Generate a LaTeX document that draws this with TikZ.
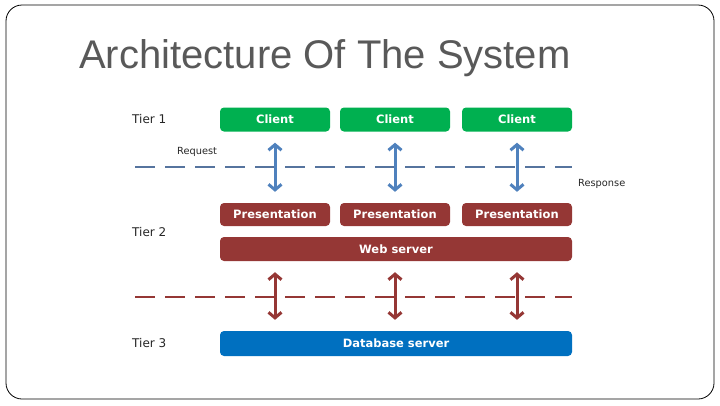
\documentclass[tikz,border=0pt]{standalone}
\usepackage{fontspec}
\setmainfont{Liberation Sans}
\newfontfamily\boxfont{DejaVu Sans}
\usetikzlibrary{arrows.meta}
\tikzset{
  tierbox/.style = {rounded corners = 4pt, minimum height = 24pt, inner sep = 0pt,
    text = white, font = \boxfont\bfseries\fontsize{11.5}{13}\selectfont},
  tierlabel/.style = {anchor = west, inner sep = 0pt, text = black!85,
    font = \boxfont\fontsize{12}{14}\selectfont},
  smalllabel/.style = {anchor = west, inner sep = 0pt, text = black!85,
    font = \boxfont\fontsize{9.8}{11}\selectfont},
  flow/.style = {line width = 3pt, {Straight Barb[length=5.5pt,width=13pt]}-{Straight Barb[length=5.5pt,width=13pt]},
    shorten < = 11pt, shorten > = 11pt},
  divider/.style = {line width = 1.8pt, dash pattern = on 20pt off 10pt}
}
\begin{document}
\begin{tikzpicture}[x = 1pt, y = -1pt]
\definecolor{titlegrey}{HTML}{595959}
\definecolor{clientgreen}{HTML}{00B050}
\definecolor{serverred}{HTML}{953735}
\definecolor{dbblue}{HTML}{0070C0}
\definecolor{flowblue}{HTML}{4F81BD}
\definecolor{lineblue}{HTML}{56749E}
\useasboundingbox (0, 0) rectangle (720, 405);
\draw[line width = 0.8pt, rounded corners = 16pt] (6, 5) rectangle (714, 399);
% title
\node[anchor = base west, inner sep = 0pt, text = titlegrey, font = \fontsize{40}{44}\selectfont] (title) at (79, 68) {Architecture Of The System};
% tier 1
\node[tierlabel] (tier1) at (132, 119) {Tier 1};
\node[tierbox, fill = clientgreen, minimum width = 110pt] (c1) at (275, 119.5) {Client};
\node[tierbox, fill = clientgreen, minimum width = 110pt] (c2) at (395, 119.5) {Client};
\node[tierbox, fill = clientgreen, minimum width = 110pt] (c3) at (517, 119.5) {Client};
% tier 2
\node[tierlabel] (tier2) at (132, 232) {Tier 2};
\node[tierbox, fill = serverred, minimum width = 110pt, minimum height = 23pt] (p1) at (275, 214.5) {Presentation};
\node[tierbox, fill = serverred, minimum width = 110pt, minimum height = 23pt] (p2) at (395, 214.5) {Presentation};
\node[tierbox, fill = serverred, minimum width = 110pt, minimum height = 23pt] (p3) at (517, 214.5) {Presentation};
\node[tierbox, fill = serverred, minimum width = 352pt] (ws) at (396, 249) {Web server};
% tier 3
\node[tierlabel] (tier3) at (132, 343) {Tier 3};
\node[tierbox, fill = dbblue, minimum width = 352pt, minimum height = 25pt] (db) at (396, 343.5) {Database server};
% dividers
\coordinate (req left) at (135, 167);
\coordinate (req right) at (572, 167);
\coordinate (app left) at (135, 297);
\coordinate (app right) at (572, 297);
\draw[divider, lineblue] (req left) -- (req right);
\draw[divider, serverred] (app left) -- (app right);
\node[smalllabel] (request) at (177, 152) {Request};
\node[smalllabel] (response) at (578, 184) {Response};
% arrows
\draw[flow, flowblue] (c1.south) -- (p1.north);
\draw[flow, flowblue] (c2.south) -- (p2.north);
\draw[flow, flowblue] (c3.south) -- (p3.north);
\draw[flow, serverred] (ws.south -| p1) -- (db.north -| p1);
\draw[flow, serverred] (ws.south -| p2) -- (db.north -| p2);
\draw[flow, serverred] (ws.south -| p3) -- (db.north -| p3);
\end{tikzpicture}
\end{document}
